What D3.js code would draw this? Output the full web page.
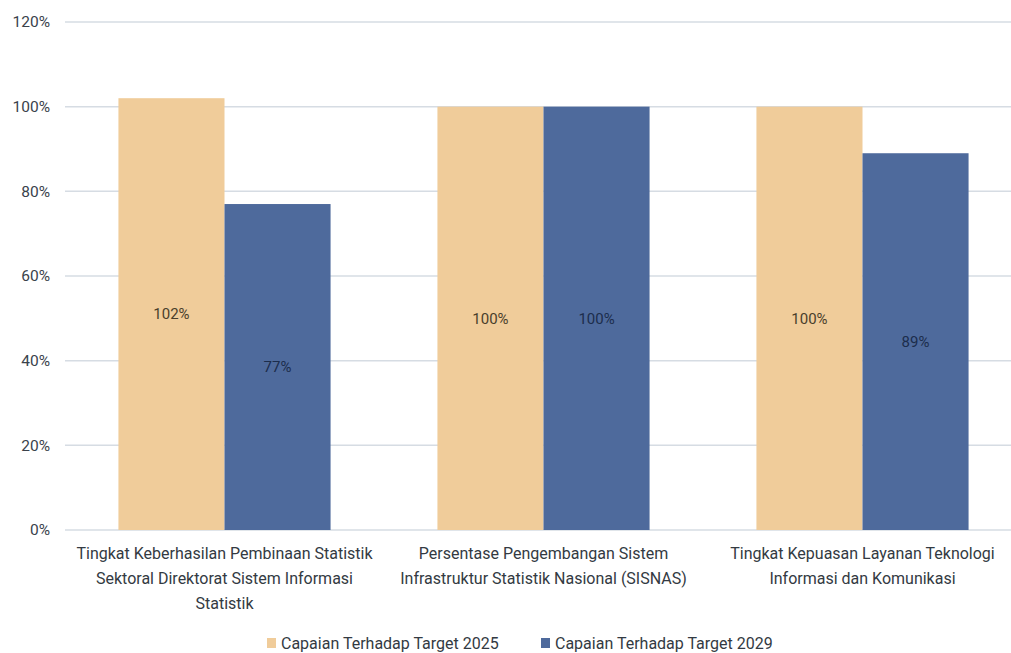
<!DOCTYPE html>
<html>
<head>
<meta charset="utf-8">
<script src="https://cdn.jsdelivr.net/npm/d3@7/dist/d3.min.js"></script>
<style>
  body { margin: 0; background: #fff; }
  svg { display: block; font-family: "Roboto", sans-serif; }
</style>
</head>
<body>
<svg id="chart" width="1011" height="653"></svg>
<script>
// categories, each split into label lines
var categories = [
	["Tingkat Keberhasilan Pembinaan Statistik", "Sektoral Direktorat Sistem Informasi", "Statistik"],
	["Persentase Pengembangan Sistem", "Infrastruktur Statistik Nasional (SISNAS)"],
	["Tingkat Kepuasan Layanan Teknologi", "Informasi dan Komunikasi"]
];
var seriesNames = ["Capaian Terhadap Target 2025", "Capaian Terhadap Target 2029"];
var target2025 = [102, 100, 100];
var target2029 = [77, 100, 89];
var yTicks = [0, 20, 40, 60, 80, 100, 120];

var colors = ["#F0CC9A", "#4E6A9C"];
var labelColors = ["#4a3e2c", "#1c2d4c"];

var svg = d3.select("#chart");

var x0 = d3.scaleBand()
	.domain(d3.range(categories.length))
	.range([65, 1022])
	.paddingInner(0.335)
	.paddingOuter(0.1675);

var x1 = d3.scaleBand()
	.domain([0, 1])
	.range([0, x0.bandwidth()]);

var y = d3.scaleLinear()
	.domain([0, 120])
	.range([530, 22]);

// gridlines
svg.append("g")
	.selectAll("line")
	.data(yTicks)
	.join("line")
	.attr("x1", 65)
	.attr("x2", 1011)
	.attr("y1", function(d) { return y(d); })
	.attr("y2", function(d) { return y(d); })
	.attr("stroke", "#d6dce3")
	.attr("stroke-width", 1.5);

// y tick labels
svg.append("g")
	.selectAll("text")
	.data(yTicks)
	.join("text")
	.attr("x", 50)
	.attr("y", function(d) { return y(d); })
	.attr("dy", "0.35em")
	.attr("text-anchor", "end")
	.attr("font-size", 15.5)
	.attr("fill", "#3a424b")
	.text(function(d) { return d + "%"; });

// bars
var rows = [];
categories.forEach(function(c, i) {
	rows.push({ cat: i, s: 0, v: target2025[i] });
	rows.push({ cat: i, s: 1, v: target2029[i] });
});

svg.append("g")
	.selectAll("rect")
	.data(rows)
	.join("rect")
	.attr("x", function(d) { return x0(d.cat) + x1(d.s); })
	.attr("y", function(d) { return y(d.v); })
	.attr("width", x1.bandwidth())
	.attr("height", function(d) { return y(0) - y(d.v); })
	.attr("fill", function(d) { return colors[d.s]; });

// value labels, centered in bar
svg.append("g")
	.selectAll("text")
	.data(rows)
	.join("text")
	.attr("x", function(d) { return x0(d.cat) + x1(d.s) + x1.bandwidth() / 2; })
	.attr("y", function(d) { return (y(d.v) + y(0)) / 2; })
	.attr("dy", "0.35em")
	.attr("text-anchor", "middle")
	.attr("font-size", 15)
	.attr("fill", function(d) { return labelColors[d.s]; })
	.text(function(d) { return d.v + "%"; });

// category labels
var catLabels = svg.append("g")
	.selectAll("text")
	.data(categories)
	.join("text")
	.attr("text-anchor", "middle")
	.attr("font-size", 16)
	.attr("fill", "#333a42");

catLabels.selectAll("tspan")
	.data(function(d, i) { return d.map(function(t) { return { t: t, i: i }; }); })
	.join("tspan")
	.attr("x", function(d) { return x0(d.i) + x0.bandwidth() / 2; })
	.attr("y", function(d, j) { return 553 + j * 25; })
	.attr("dy", "0.35em")
	.text(function(d) { return d.t; });

// legend
var legendX = [267, 541];
var legend = svg.append("g")
	.selectAll("g")
	.data(seriesNames)
	.join("g")
	.attr("transform", function(d, i) { return "translate(" + legendX[i] + ",643)"; });

legend.append("rect")
	.attr("x", 0)
	.attr("y", -5)
	.attr("width", 9)
	.attr("height", 10)
	.attr("fill", function(d, i) { return colors[i]; });

legend.append("text")
	.attr("x", 14)
	.attr("y", 0)
	.attr("dy", "0.35em")
	.attr("font-size", 16)
	.attr("fill", "#333a42")
	.text(function(d) { return d; });
</script>
</body>
</html>
